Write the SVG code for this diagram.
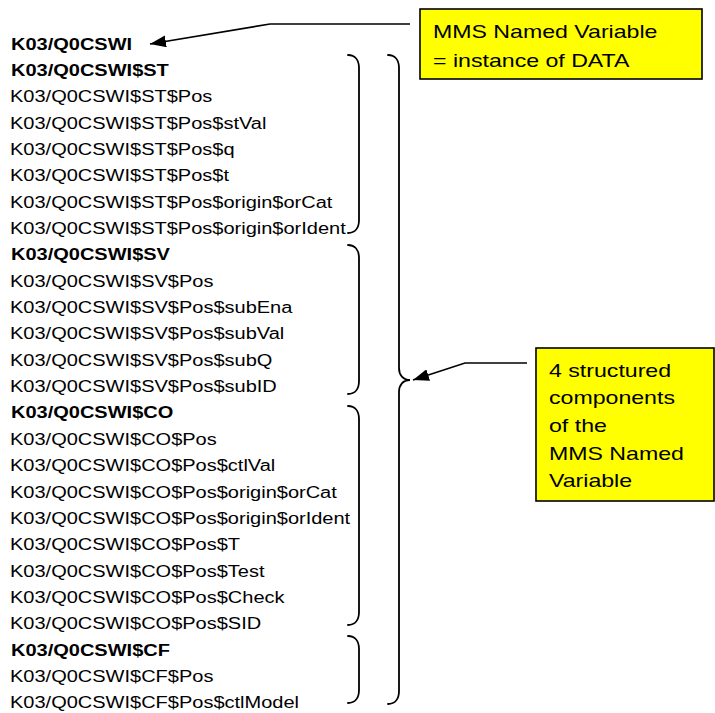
<svg xmlns="http://www.w3.org/2000/svg" width="715" height="713" viewBox="0 0 715 713">
<style>
.t{font-family:"Liberation Sans",Arial,sans-serif;font-size:16px;fill:#000}
.b{font-weight:bold}
.c{font-family:"Liberation Sans",Arial,sans-serif;font-size:18.5px;fill:#000}
.br{fill:none;stroke:#000;stroke-width:1.8;stroke-linecap:round}
.box{fill:#FFFF00;stroke:#000;stroke-width:1.6}
.ln{fill:none;stroke:#000;stroke-width:1.6}
</style>
<defs>
<marker id="ah" viewBox="0 0 16 12" refX="16" refY="6" markerWidth="16" markerHeight="12" markerUnits="userSpaceOnUse" orient="auto">
<path d="M0,0 L16,6 L0,12 z" fill="#000"/>
</marker>
</defs>
<rect width="715" height="713" fill="#fff"/>
<g id="names">
<text class="t b" transform="translate(11 49.5) scale(1.25 1)">K03/Q0CSWI</text>
<text class="t b" transform="translate(11 75.9) scale(1.25 1)">K03/Q0CSWI$ST</text>
<text class="t" transform="translate(10 102.2) scale(1.25 1)">K03/Q0CSWI$ST$Pos</text>
<text class="t" transform="translate(10 128.6) scale(1.25 1)">K03/Q0CSWI$ST$Pos$stVal</text>
<text class="t" transform="translate(10 154.9) scale(1.25 1)">K03/Q0CSWI$ST$Pos$q</text>
<text class="t" transform="translate(10 181.3) scale(1.25 1)">K03/Q0CSWI$ST$Pos$t</text>
<text class="t" transform="translate(10 207.6) scale(1.25 1)">K03/Q0CSWI$ST$Pos$origin$orCat</text>
<text class="t" transform="translate(10 234) scale(1.25 1)">K03/Q0CSWI$ST$Pos$origin$orIdent</text>
<text class="t b" transform="translate(11 260.3) scale(1.25 1)">K03/Q0CSWI$SV</text>
<text class="t" transform="translate(10 286.7) scale(1.25 1)">K03/Q0CSWI$SV$Pos</text>
<text class="t" transform="translate(10 313) scale(1.25 1)">K03/Q0CSWI$SV$Pos$subEna</text>
<text class="t" transform="translate(10 339.4) scale(1.25 1)">K03/Q0CSWI$SV$Pos$subVal</text>
<text class="t" transform="translate(10 365.7) scale(1.25 1)">K03/Q0CSWI$SV$Pos$subQ</text>
<text class="t" transform="translate(10 392.1) scale(1.25 1)">K03/Q0CSWI$SV$Pos$subID</text>
<text class="t b" transform="translate(11 418.4) scale(1.25 1)">K03/Q0CSWI$CO</text>
<text class="t" transform="translate(10 444.8) scale(1.25 1)">K03/Q0CSWI$CO$Pos</text>
<text class="t" transform="translate(10 471.1) scale(1.25 1)">K03/Q0CSWI$CO$Pos$ctlVal</text>
<text class="t" transform="translate(10 497.5) scale(1.25 1)">K03/Q0CSWI$CO$Pos$origin$orCat</text>
<text class="t" transform="translate(10 523.8) scale(1.25 1)">K03/Q0CSWI$CO$Pos$origin$orIdent</text>
<text class="t" transform="translate(10 550.2) scale(1.25 1)">K03/Q0CSWI$CO$Pos$T</text>
<text class="t" transform="translate(10 576.6) scale(1.25 1)">K03/Q0CSWI$CO$Pos$Test</text>
<text class="t" transform="translate(10 602.9) scale(1.25 1)">K03/Q0CSWI$CO$Pos$Check</text>
<text class="t" transform="translate(10 629.2) scale(1.25 1)">K03/Q0CSWI$CO$Pos$SID</text>
<text class="t b" transform="translate(11 655.6) scale(1.25 1)">K03/Q0CSWI$CF</text>
<text class="t" transform="translate(10 681.9) scale(1.25 1)">K03/Q0CSWI$CF$Pos</text>
<text class="t" transform="translate(10 708.3) scale(1.25 1)">K03/Q0CSWI$CF$Pos$ctlModel</text>
</g>
<g id="braces">
<path class="br" d="M348,55 C355,55 359,60 359,68 V220 C359,228 355,233 348,233"/>
<path class="br" d="M348,245 C355,245 359,250 359,258 V381 C359,389 355,394 348,394"/>
<path class="br" d="M348,406 C355,406 359,411 359,419 V612 C359,620 355,625 348,625"/>
<path class="br" d="M348,636 C355,636 359,641 359,649 V690 C359,698 355,703 348,703"/>
<path class="br" d="M388,55 C395,55 399,60 399,68 V368 C399,375 403,380 410,380 C403,380 399,385 399,392 V691 C399,699 395,704 388,704"/>
</g>
<g id="callout-named-variable">
<rect class="box" x="420" y="9" width="282" height="70"/>
<text class="c" transform="translate(433 38) scale(1.25 1)">MMS Named Variable</text>
<text class="c" transform="translate(433 67) scale(1.25 1)">= instance of DATA</text>
</g>
<g id="callout-components">
<rect class="box" x="536" y="348" width="178" height="153"/>
<text class="c" transform="translate(549 377) scale(1.25 1)">4 structured</text>
<text class="c" transform="translate(549 404) scale(1.25 1)">components</text>
<text class="c" transform="translate(549 432) scale(1.25 1)">of the</text>
<text class="c" transform="translate(549 460) scale(1.25 1)">MMS Named</text>
<text class="c" transform="translate(549 487) scale(1.25 1)">Variable</text>
</g>
<g id="connectors">
<path class="ln" d="M410,24 H270 L150,44" marker-end="url(#ah)"/>
<path class="ln" d="M527,363 H465 L413,380" marker-end="url(#ah)"/>
</g>
</svg>
